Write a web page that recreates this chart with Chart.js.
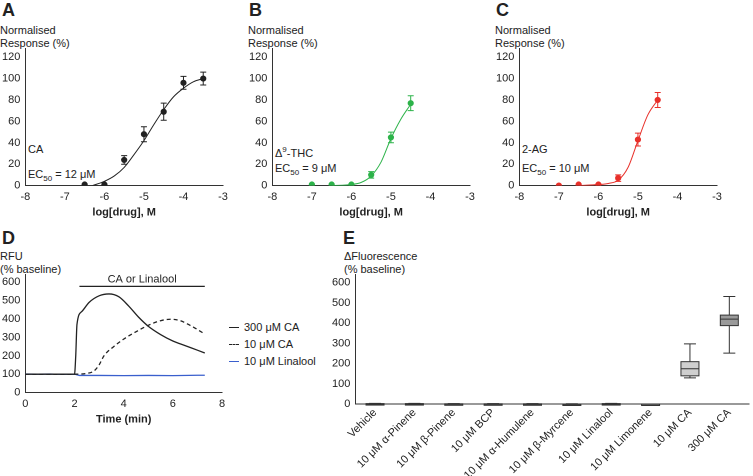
<!DOCTYPE html>
<html><head><meta charset="utf-8">
<script src="https://cdn.jsdelivr.net/npm/chart.js@4"></script>
<style>
body{margin:0;width:753px;height:476px;position:relative;background:#fff;font-family:"Liberation Sans",Arial,sans-serif;color:#222;overflow:hidden}
.c{position:absolute}
.t{position:absolute;font-size:11px;line-height:13px;white-space:nowrap}
.L{position:absolute;font-size:18px;font-weight:bold}
.lg{position:absolute;font-size:11px;display:flex;align-items:center;height:14px}
.lg i{display:inline-block;width:10px;margin-right:5px;border-top:1.5px solid #222}
</style></head><body>
<div class="L" style="left:2px;top:0">A</div>
<div class="L" style="left:249px;top:0">B</div>
<div class="L" style="left:496px;top:0">C</div>
<div class="L" style="left:2px;top:228px">D</div>
<div class="L" style="left:343px;top:228px">E</div>
<div class="t" style="left:0;top:24px">Normalised<br>Response (%)</div>
<div class="t" style="left:248px;top:24px">Normalised<br>Response (%)</div>
<div class="t" style="left:495px;top:24px">Normalised<br>Response (%)</div>
<div class="t" style="left:0;top:250px">RFU<br>(% baseline)</div>
<div class="t" style="left:344px;top:250px">ΔFluorescence<br>(% baseline)</div>
<div class="t" style="left:28px;top:143px">CA</div>
<div class="t" style="left:28px;top:168px">EC<sub style="font-size:8px">50</sub> = 12 μM</div>
<div class="t" style="left:275px;top:143px">Δ<sup style="font-size:8px">9</sup>-THC</div>
<div class="t" style="left:275px;top:162px">EC<sub style="font-size:8px">50</sub> = 9 μM</div>
<div class="t" style="left:522px;top:143px">2-AG</div>
<div class="t" style="left:522px;top:162px">EC<sub style="font-size:8px">50</sub> = 10 μM</div>
<div class="lg" style="left:229px;top:320px"><i></i>300 μM CA</div>
<div class="lg" style="left:229px;top:337px"><i style="border-top-style:dashed"></i>10 μM CA</div>
<div class="lg" style="left:229px;top:354px"><i style="border-top-color:#3a5fcd"></i>10 μM Linalool</div>
<canvas class="c" id="A" style="left:0;top:40px;width:235px;height:183px"></canvas>
<canvas class="c" id="B" style="left:247px;top:40px;width:235px;height:183px"></canvas>
<canvas class="c" id="C" style="left:494px;top:40px;width:235px;height:183px"></canvas>
<canvas class="c" id="D" style="left:0;top:266px;width:228px;height:164px"></canvas>
<canvas class="c" id="E" style="left:330px;top:266px;width:423px;height:218px"></canvas>
<script>
// Dose-response data
const logA=[-6.5,-6,-5.5,-5,-4.5,-4,-3.5], valA=[1,1,24,48,69,96,100], errA=[0,0,4,7,8,6,6];
const curveAx=[-6.3,-6,-5.75,-5.5,-5.25,-5,-4.75,-4.5,-4.25,-4,-3.75,-3.5], curveAy=[0,4,9,17,29,42,57,71,83,91,97,100];
const logB=[-7,-6.5,-6,-5.5,-5,-4.5], valB=[1,1,1,10,45,77], errB=[0,0,0,3,5,7];
const curveBx=[-6.5,-6,-5.75,-5.5,-5.25,-5,-4.75,-4.5], curveBy=[0,1,3,9,22,44,62,76];
const logC=[-7,-6.5,-6,-5.5,-5,-4.5], valC=[0,1,1,7,43,80], errC=[0,0,0,3,6,7];
const curveCx=[-6.5,-6,-5.75,-5.5,-5.25,-5,-4.75,-4.5], curveCy=[0,1,2,5,17,42,66,80];
const ticksDR=[0,20,40,60,80,100,120];
// Time course (min, % baseline)
const tCA300=[0,1,2,2.05,2.1,2.3,2.6,3,3.4,3.8,4.2,4.6,5,5.5,6,6.5,7,7.3], yCA300=[100,100,100,200,370,440,490,525,535,520,470,410,360,315,280,255,230,215];
const tCA10=[0,1,2,2.5,2.8,3,3.2,3.6,4,4.5,5,5.5,5.9,6.3,6.7,7.3], yCA10=[100,100,100,104,118,150,200,250,290,330,365,390,398,390,365,318];
const tLin=[0,0.5,1,1.5,2,2.2,3,4,5,6,7,7.3], yLin=[101,100,101,99,100,93,93,92,93,92,94,94];
const ticksRFU=[0,100,200,300,400,500,600];
// Box plot data
const boxCats=["Vehicle","10 μM α-Pinene","10 μM β-Pinene","10 μM BCP","10 μM α-Humulene","10 μM β-Myrcene","10 μM Linalool","10 μM Limonene","10 μM CA","300 μM CA"];
const boxMin=[-4,-4,-2,-2,-3,-2,-4,-1,130,252], boxQ1=[-3,-3,-1,-1,-2,-1,-3,-1,140,388], boxMed=[0,0,0,0,0,0,0,0,175,420], boxQ3=[3,3,2,2,2,1,3,1,210,440], boxMax=[4,4,3,3,3,2,4,1,298,532];
const boxFill=["#444","#444","#777","#777","#555","#555","#444","#bbb","#cfcfcf","#9a9a9a"];

Chart.defaults.font.family='"Liberation Sans",Arial,sans-serif';
Chart.defaults.font.size=11;
Chart.defaults.color='#222';
Chart.defaults.animation=false;
const pts=(xs,ys)=>xs.map((x,i)=>({x,y:ys[i]}));
const fixed=list=>a=>{a.ticks=list.map(v=>({value:v}))};
const axisCommon={grid:{display:false,drawTicks:true,tickLength:3,tickColor:'#333'},border:{color:'#333',width:1},ticks:{color:'#222',padding:2}};
const errPlugin={id:'err',afterDatasetsDraw(ch){const e=ch.options.plugins.err;if(!e)return;const c=ch.ctx,xs=ch.scales.x,ys=ch.scales.y;c.save();c.strokeStyle=e.color;c.lineWidth=1;
 e.x.forEach((x,i)=>{if(!e.e[i])return;const px=xs.getPixelForValue(x),t=ys.getPixelForValue(e.y[i]+e.e[i]),b=ys.getPixelForValue(e.y[i]-e.e[i]);c.beginPath();c.moveTo(px,t);c.lineTo(px,b);c.moveTo(px-3,t);c.lineTo(px+3,t);c.moveTo(px-3,b);c.lineTo(px+3,b);c.stroke();});c.restore();}};
function dr(id,lx,ly,le,cx,cy,col){
 new Chart(document.getElementById(id),{type:'scatter',data:{datasets:[
  {data:pts(cx,cy),showLine:true,borderColor:col,borderWidth:1,pointRadius:0,cubicInterpolationMode:'monotone'},
  {data:pts(lx,ly),backgroundColor:col,borderColor:col,pointRadius:2.6}]},
 options:{responsive:false,devicePixelRatio:2,layout:{padding:{right:12,top:4}},plugins:{legend:{display:false},tooltip:{enabled:false},err:{x:lx,y:ly,e:le,color:col}},
  scales:{x:{...axisCommon,type:'linear',min:-8,max:-3,ticks:{...axisCommon.ticks,stepSize:1},title:{display:true,text:'log[drug], M',font:{weight:'bold',size:11},padding:{top:0}}},
   y:{...axisCommon,min:0,max:128,afterBuildTicks:fixed(ticksDR)}}},plugins:[errPlugin]});
}
function sizeC(id){const el=document.getElementById(id);el.width=parseInt(el.style.width);el.height=parseInt(el.style.height);}
['A','B','C','D','E'].forEach(sizeC);
dr('A',logA,valA,errA,curveAx,curveAy,'#222');
dr('B',logB,valB,errB,curveBx,curveBy,'#2db34a');
dr('C',logC,valC,errC,curveCx,curveCy,'#e8302a');

const barPlugin={id:'bar',afterDatasetsDraw(ch){const c=ch.ctx,xs=ch.scales.x,ys=ch.scales.y;const y=ys.getPixelForValue(576);c.save();c.strokeStyle='#222';c.lineWidth=1.2;c.beginPath();c.moveTo(xs.getPixelForValue(2.2),y);c.lineTo(xs.getPixelForValue(7.3),y);c.stroke();
 c.fillStyle='#222';c.font='11px "Liberation Sans",Arial';c.textAlign='center';c.fillText('CA or Linalool',xs.getPixelForValue(4.75),y-4);c.restore();}};
new Chart(document.getElementById('D'),{type:'scatter',data:{datasets:[
 {label:'300 μM CA',data:pts(tCA300,yCA300),showLine:true,borderColor:'#222',borderWidth:1.3,pointRadius:0,cubicInterpolationMode:'monotone'},
 {label:'10 μM CA',data:pts(tCA10,yCA10),showLine:true,borderColor:'#222',borderWidth:1.3,borderDash:[4,3],pointRadius:0,cubicInterpolationMode:'monotone'},
 {label:'10 μM Linalool',data:pts(tLin,yLin),showLine:true,borderColor:'#3a5fcd',borderWidth:1.3,pointRadius:0,tension:0}]},
 options:{responsive:false,devicePixelRatio:2,layout:{padding:{top:4,right:6}},plugins:{tooltip:{enabled:false},legend:{display:false}},
 scales:{x:{...axisCommon,type:'linear',min:0,max:8,ticks:{...axisCommon.ticks,stepSize:2},title:{display:true,text:'Time (min)',font:{weight:'bold',size:11},padding:{top:0}}},
  y:{...axisCommon,min:0,max:640,afterBuildTicks:fixed(ticksRFU)}}},plugins:[barPlugin]});

const boxPlugin={id:'box',afterDatasetsDraw(ch){const c=ch.ctx,xs=ch.scales.x,ys=ch.scales.y;c.save();c.strokeStyle='#333';c.lineWidth=1;
 boxCats.forEach((n,i)=>{const x=xs.getPixelForValue(i),w=9,Y=v=>ys.getPixelForValue(v);
  c.beginPath();c.moveTo(x,Y(boxMax[i]));c.lineTo(x,Y(boxQ3[i]));c.moveTo(x,Y(boxQ1[i]));c.lineTo(x,Y(boxMin[i]));
  c.moveTo(x-6,Y(boxMax[i]));c.lineTo(x+6,Y(boxMax[i]));c.moveTo(x-6,Y(boxMin[i]));c.lineTo(x+6,Y(boxMin[i]));c.stroke();
  c.fillStyle=boxFill[i];const t=Y(boxQ3[i]),b=Y(boxQ1[i]);c.fillRect(x-w,t,2*w,Math.max(b-t,1.5));c.strokeRect(x-w,t,2*w,Math.max(b-t,1.5));
  c.beginPath();c.moveTo(x-w,Y(boxMed[i]));c.lineTo(x+w,Y(boxMed[i]));c.stroke();});c.restore();}};
new Chart(document.getElementById('E'),{type:'bar',data:{labels:boxCats,datasets:[{data:boxMed.map(()=>null)}]},
 options:{responsive:false,devicePixelRatio:2,layout:{padding:{top:4,right:4}},plugins:{legend:{display:false},tooltip:{enabled:false}},
 scales:{x:{...axisCommon,ticks:{...axisCommon.ticks,maxRotation:45,minRotation:45,autoSkip:false},grid:{display:false,drawTicks:false}},
  y:{...axisCommon,min:0,max:640,afterBuildTicks:fixed(ticksRFU)}}},plugins:[boxPlugin]});
</script></body></html>
